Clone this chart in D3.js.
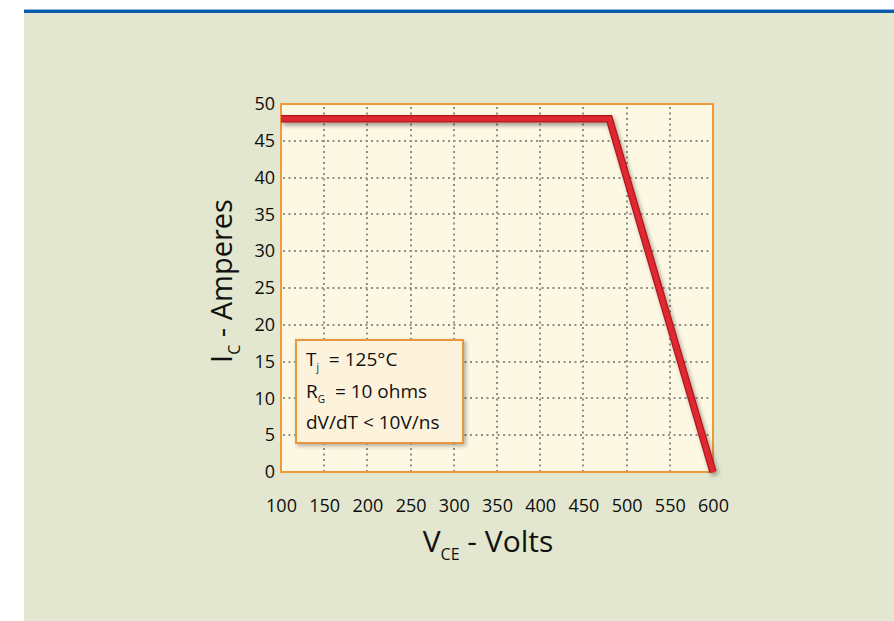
<!DOCTYPE html>
<html>
<head>
<meta charset="utf-8">
<script src="https://cdn.jsdelivr.net/npm/d3@7"></script>
<style>
  html, body { margin: 0; padding: 0; background: #ffffff; }
  svg { display: block; font-family: "Open Sans", "Noto Sans", sans-serif; }
</style>
</head>
<body>
<svg id="chart" width="894" height="621"></svg>
<script>
// Reverse-bias safe operating area: collector current vs collector-emitter voltage
const voltageTicks = [100, 150, 200, 250, 300, 350, 400, 450, 500, 550, 600];
const currentTicks = [0, 5, 10, 15, 20, 25, 30, 35, 40, 45, 50];
const soaVoltage = [100, 480, 600];
const soaCurrent = [48, 48, 0];
const conditions = [
  { main: "T", sub: "j", rest: "  = 125°C" },
  { main: "R", sub: "G", rest: "  = 10 ohms" },
  { main: "dV/dT < 10V/ns", sub: "", rest: "" }
];

const svg = d3.select("#chart");

// panel background and top rule
svg.append("rect").attr("x", 24).attr("y", 12).attr("width", 870).attr("height", 609)
  .attr("fill", "#e3e7cf");
svg.append("rect").attr("x", 24).attr("y", 9).attr("width", 870).attr("height", 1)
  .attr("fill", "#8fb6dc");
svg.append("rect").attr("x", 24).attr("y", 10).attr("width", 870).attr("height", 3)
  .attr("fill", "#0b5eae");

const plot = { left: 281, right: 713, top: 104, bottom: 472 };
const x = d3.scaleLinear().domain([100, 600]).range([plot.left, plot.right]);
const y = d3.scaleLinear().domain([0, 50]).range([plot.bottom, plot.top]);

const defs = svg.append("defs");
const shadow = defs.append("filter").attr("id", "shadow")
  .attr("x", "-20%").attr("y", "-20%").attr("width", "140%").attr("height", "140%");
shadow.append("feDropShadow").attr("dx", 2).attr("dy", 3).attr("stdDeviation", 2)
  .attr("flood-color", "#000").attr("flood-opacity", 0.35);
const softShadow = defs.append("filter").attr("id", "softShadow")
  .attr("x", "-20%").attr("y", "-20%").attr("width", "140%").attr("height", "140%");
softShadow.append("feDropShadow").attr("dx", 2).attr("dy", 2).attr("stdDeviation", 2)
  .attr("flood-color", "#000").attr("flood-opacity", 0.3);

// plot area
svg.append("rect")
  .attr("x", plot.left).attr("y", plot.top)
  .attr("width", plot.right - plot.left).attr("height", plot.bottom - plot.top)
  .attr("fill", "#fdf8e3");

// dotted grid
const grid = svg.append("g").attr("stroke", "#8f8f88").attr("stroke-width", 2)
  .attr("stroke-dasharray", "2,3.5");
grid.selectAll("line.v").data(voltageTicks.slice(1, -1)).join("line")
  .attr("x1", d => Math.round(x(d))).attr("x2", d => Math.round(x(d)))
  .attr("y1", plot.top + 3).attr("y2", plot.bottom);
grid.selectAll("line.h").data(currentTicks.slice(1, -1)).join("line")
  .attr("x1", plot.left + 2).attr("x2", plot.right)
  .attr("y1", d => Math.round(y(d))).attr("y2", d => Math.round(y(d)));

// border
svg.append("rect")
  .attr("x", plot.left).attr("y", plot.top)
  .attr("width", plot.right - plot.left).attr("height", plot.bottom - plot.top)
  .attr("fill", "none").attr("stroke", "#f09a3e").attr("stroke-width", 2);

// axes
const xAxis = svg.append("g").attr("transform", `translate(0,${plot.bottom})`)
  .call(d3.axisBottom(x).tickValues(voltageTicks).tickSize(0).tickPadding(27));
const yAxis = svg.append("g").attr("transform", `translate(${plot.left},0)`)
  .call(d3.axisLeft(y).tickValues(currentTicks).tickSize(0).tickPadding(6));
[xAxis, yAxis].forEach(a => {
  a.select(".domain").remove();
  a.selectAll("text").attr("font-family", "'Open Sans', sans-serif")
    .attr("font-size", 18).attr("fill", "#0d0d0d");
});

// SOA boundary
const line = d3.line().x(d => x(d[0])).y(d => y(d[1]));
const pts = soaVoltage.map((v, i) => [v, soaCurrent[i]]);
svg.append("path").datum(pts).attr("d", line)
  .attr("fill", "none").attr("stroke", "#b0161e").attr("stroke-width", 7.5)
  .attr("stroke-linejoin", "miter").attr("filter", "url(#shadow)");
svg.append("path").datum(pts).attr("d", line)
  .attr("fill", "none").attr("stroke", "#e02832").attr("stroke-width", 5)
  .attr("stroke-linejoin", "miter");

// test conditions box
const box = svg.append("g");
box.append("rect").attr("x", 296).attr("y", 340).attr("width", 167).attr("height", 103)
  .attr("fill", "#fdf3dc").attr("stroke", "#e8953c").attr("stroke-width", 2)
  .attr("filter", "url(#softShadow)");
conditions.forEach((c, i) => {
  const t = box.append("text").attr("x", 306).attr("y", 366 + i * 31.5)
    .attr("font-size", 19).attr("fill", "#111").attr("xml:space", "preserve")
    .style("white-space", "pre");
  t.append("tspan").text(c.main);
  if (c.sub) {
    t.append("tspan").attr("font-size", 10).attr("dy", 5).text(c.sub);
    t.append("tspan").attr("dy", -5).text(c.rest);
  }
});

// axis titles
const xt = svg.append("text").attr("x", 488).attr("y", 552).attr("text-anchor", "middle")
  .attr("font-size", 30).attr("fill", "#111");
xt.append("tspan").text("V");
xt.append("tspan").attr("font-size", 16).attr("dy", 8).text("CE");
xt.append("tspan").attr("dy", -8).text(" - Volts");

const yt = svg.append("text")
  .attr("transform", "translate(232,281) rotate(-90)")
  .attr("text-anchor", "middle").attr("font-size", 29).attr("fill", "#111");
yt.append("tspan").text("I");
yt.append("tspan").attr("font-size", 16).attr("dy", 8).text("C");
yt.append("tspan").attr("dy", -8).text(" - Amperes");
</script>
</body>
</html>
